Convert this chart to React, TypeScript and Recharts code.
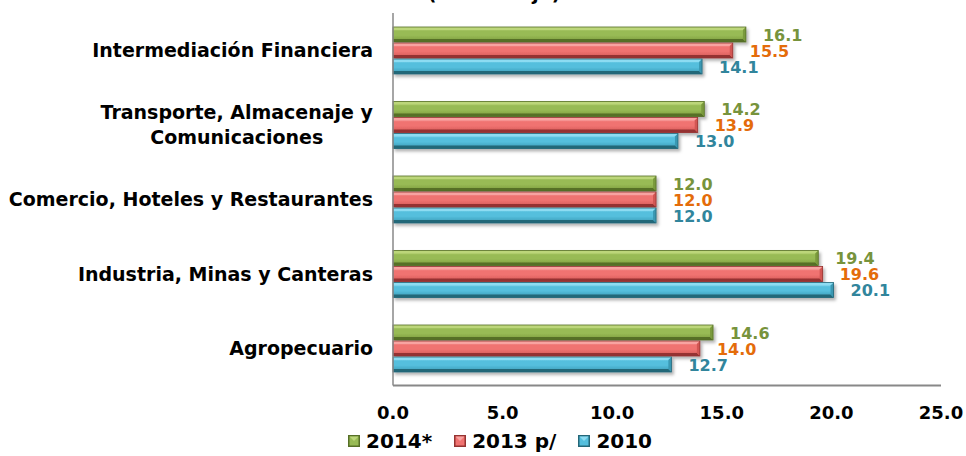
import { BarChart, Bar, XAxis, YAxis, Legend, LabelList, Customized } from "recharts";

const categories = [
  "Intermediación Financiera",
  "Transporte, Almacenaje y\nComunicaciones",
  "Comercio, Hoteles y Restaurantes",
  "Industria, Minas y Canteras",
  "Agropecuario",
];
const values2014 = [16.1, 14.2, 12.0, 19.4, 14.6];
const values2013 = [15.5, 13.9, 12.0, 19.6, 14.0];
const values2010 = [14.1, 13.0, 12.0, 20.1, 12.7];
const xTicks = [0, 5, 10, 15, 20, 25];
const seriesLabels = ["2014*", "2013 p/", "2010"];
const title = "(Porcentaje)";

const FONT = "'DejaVu Sans', Verdana, sans-serif";

const data = categories.map((name, i) => ({
  name,
  y2014: values2014[i],
  y2013: values2013[i],
  y2010: values2010[i],
}));

// light / mid / lower / edge per series
const PAL = {
  g: { id: "g", top: "#bcd67a", a: "#98bb55", b: "#7a9a3c", dark: "#566f27", label: "#77933c" },
  r: { id: "r", top: "#f8a3a1", a: "#f07371", b: "#d25753", dark: "#953331", label: "#e46c0a" },
  b: { id: "b", top: "#8ddcf2", a: "#55bfdd", b: "#3a98b2", dark: "#246778", label: "#31859c" },
};
type Pal = typeof PAL.g;
const seriesPal = [PAL.g, PAL.r, PAL.b];

let measureCtx: CanvasRenderingContext2D | null = null;
function textWidth(s: string, font: string) {
  if (!measureCtx) measureCtx = document.createElement("canvas").getContext("2d");
  if (!measureCtx) return s.length * 10;
  measureCtx.font = font;
  return measureCtx.measureText(s).width;
}

function BevelBar(props: any) {
  const { x, y, width, height, pal } = props as { x: number; y: number; width: number; height: number; pal: Pal };
  if (!width || width <= 0) return null;
  const x0 = x, x1 = x + width, y0 = y, y1 = y + height;
  const b = 3;
  return (
    <g filter="url(#barShadow)">
      <rect x={x0} y={y0} width={width} height={height} fill={`url(#face-${pal.id})`} />
      <polygon points={`${x0},${y0} ${x1},${y0} ${x1 - b},${y0 + b} ${x0},${y0 + b}`} fill={pal.top} />
      <polygon points={`${x0},${y1} ${x1},${y1} ${x1 - b},${y1 - b} ${x0},${y1 - b}`} fill={pal.dark} />
      <polygon points={`${x1},${y0} ${x1},${y1} ${x1 - b},${y1 - b} ${x1 - b},${y0 + b}`} fill={pal.b} />
      <rect x={x0} y={y0} width={width} height={height} fill="none" stroke={pal.dark} strokeWidth={0.8} />
    </g>
  );
}

function CategoryTick(props: any) {
  const { x, y, payload } = props;
  const lines = String(payload.value).split("\n");
  const size = 19;
  const font = `bold ${size}px ${FONT}`;
  const right = x - 20;
  if (lines.length === 1) {
    return (
      <text x={right} y={y} dy={7} textAnchor="end" fontFamily={FONT} fontSize={size} fontWeight="bold" fill="#000">
        {lines[0]}
      </text>
    );
  }
  const widths = lines.map((l) => textWidth(l, font));
  const maxW = Math.max(...widths);
  const cx = right - maxW / 2;
  const lh = 25;
  const start = y - ((lines.length - 1) * lh) / 2;
  return (
    <g>
      {lines.map((l, i) => (
        <text key={i} x={cx} y={start + i * lh} dy={7} textAnchor="middle" fontFamily={FONT} fontSize={size} fontWeight="bold" fill="#000">
          {l}
        </text>
      ))}
    </g>
  );
}

function ValueTick(props: any) {
  const { x, y, payload } = props;
  return (
    <text x={x} y={y} dy={33} textAnchor="middle" fontFamily={FONT} fontSize={18} fontWeight="bold" fill="#000">
      {Number(payload.value).toFixed(1)}
    </text>
  );
}

const valueLabel = (color: string) => (props: any) => {
  const { x, y, width, height, value } = props;
  return (
    <text x={x + width + 17} y={y + height / 2} dy={6} textAnchor="start" fontFamily={FONT} fontSize={16} fontWeight="bold" fill={color}>
      {Number(value).toFixed(1)}
    </text>
  );
};

function LegendMarker({ pal }: { pal: Pal }) {
  return (
    <svg width={12} height={12} style={{ display: "block" }}>
      <rect x={0} y={0} width={12} height={12} fill={pal.dark} />
      <rect x={1.5} y={1.5} width={9} height={9} fill={pal.a} />
      <polygon points="1.5,1.5 10.5,1.5 6,6" fill={pal.top} />
    </svg>
  );
}

const renderLegend = () => (
  <div
    style={{
      display: "flex",
      alignItems: "center",
      height: 30,
      paddingLeft: 348,
      fontFamily: FONT,
      fontWeight: "bold",
      fontSize: 20,
      color: "#000",
    }}
  >
    {seriesLabels.map((s, i) => (
      <div key={s} style={{ display: "flex", alignItems: "center", marginRight: 22 }}>
        <LegendMarker pal={seriesPal[i]} />
        <span style={{ marginLeft: 6 }}>{s}</span>
      </div>
    ))}
  </div>
);

export default function App() {
  return (
    <div style={{ position: "absolute", left: 0, top: 0, width: 966, height: 456, background: "#fff" }}>
      <BarChart
        width={966}
        height={456}
        data={data}
        layout="vertical"
        margin={{ top: 13, right: 25, left: 0, bottom: 0 }}
        barCategoryGap="17%"
        barGap={1}
      >
        <defs>
          {seriesPal.map((p) => (
            <linearGradient key={p.id} id={`face-${p.id}`} x1="0" y1="0" x2="0" y2="1">
              <stop offset="0%" stopColor={p.top} />
              <stop offset="30%" stopColor={p.a} />
              <stop offset="55%" stopColor={p.a} />
              <stop offset="100%" stopColor={p.b} />
            </linearGradient>
          ))}
          <filter id="barShadow" x="-5%" y="-30%" width="110%" height="180%">
            <feDropShadow dx={2} dy={2.5} stdDeviation={1.8} floodColor="#000" floodOpacity={0.3} />
          </filter>
        </defs>
        <Customized
          component={() => (
            <text x={494} y={0} textAnchor="middle" fontFamily={FONT} fontSize={19} fontWeight="bold" fill="#000">
              {title}
            </text>
          )}
        />
        <XAxis
          type="number"
          domain={[0, 25]}
          ticks={xTicks}
          interval={0}
          tickLine={false}
          tickSize={0}
          tickMargin={0}
          height={40.5}
          axisLine={{ stroke: "#888", strokeWidth: 2 }}
          tick={<ValueTick />}
        />
        <YAxis
          type="category"
          dataKey="name"
          width={393}
          tickLine={false}
          tickSize={0}
          tickMargin={0}
          axisLine={{ stroke: "#888", strokeWidth: 1.5 }}
          tick={<CategoryTick />}
          interval={0}
        />
        <Legend verticalAlign="bottom" height={30} content={renderLegend} wrapperStyle={{ left: 0, width: 966 }} />
        <Bar dataKey="y2014" barSize={15} isAnimationActive={false} shape={(p: any) => <BevelBar {...p} pal={PAL.g} />}>
          <LabelList dataKey="y2014" content={valueLabel(PAL.g.label)} />
        </Bar>
        <Bar dataKey="y2013" barSize={15} isAnimationActive={false} shape={(p: any) => <BevelBar {...p} pal={PAL.r} />}>
          <LabelList dataKey="y2013" content={valueLabel(PAL.r.label)} />
        </Bar>
        <Bar dataKey="y2010" barSize={15} isAnimationActive={false} shape={(p: any) => <BevelBar {...p} pal={PAL.b} />}>
          <LabelList dataKey="y2010" content={valueLabel(PAL.b.label)} />
        </Bar>
      </BarChart>
    </div>
  );
}
